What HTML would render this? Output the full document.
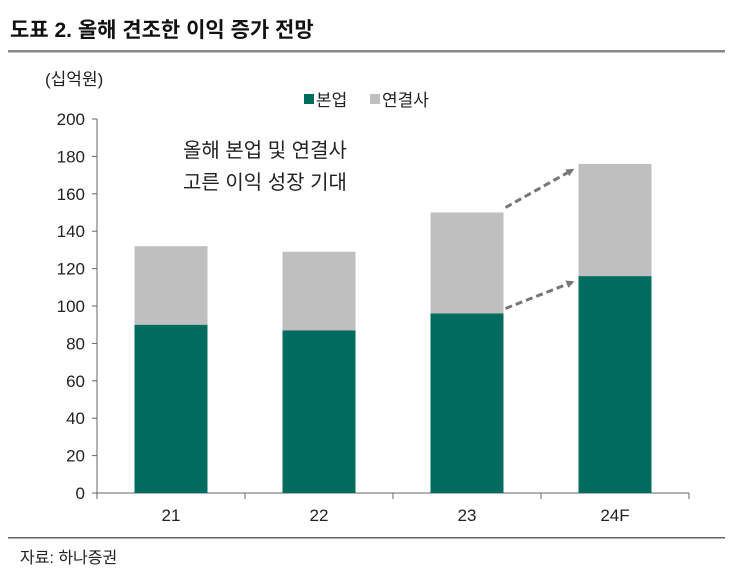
<!DOCTYPE html>
<html><head><meta charset="utf-8"><style>
body{margin:0;background:#fff;font-family:"Liberation Sans","Noto Sans CJK KR",sans-serif;}
</style></head><body>
<svg width="730" height="573" viewBox="0 0 730 573" xmlns="http://www.w3.org/2000/svg" font-family="'Liberation Sans','Noto Sans CJK KR',sans-serif">
<text x="10" y="37" font-size="21" font-weight="bold" fill="#111">도표 2. 올해 견조한 이익 증가 전망</text>
<rect x="8" y="50" width="717" height="2.5" fill="#888"/>
<text x="45" y="85" font-size="17" fill="#222">(십억원)</text>
<rect x="304" y="94" width="10" height="10" fill="#006b5e"/>
<text x="316" y="106" font-size="17" fill="#222">본업</text>
<rect x="370" y="94" width="10" height="10" fill="#bfbfbf"/>
<text x="382" y="106" font-size="17" fill="#222">연결사</text>
<text x="183" y="157" font-size="20" fill="#222">올해 본업 및 연결사</text>
<text x="183" y="189" font-size="20" fill="#222">고른 이익 성장 기대</text>
<g id="plot"></g>
<rect x="8" y="537" width="717" height="1.5" fill="#666"/>
<text x="20" y="563" font-size="16" fill="#222">자료: 하나증권</text>
</svg>
<script>
const categories=["21","22","23","24F"];
const mainValues=[90,87,96,116];
const subValues=[42,42,54,60];
const yTicks=[0,20,40,60,80,100,120,140,160,180,200];
const NS="http://www.w3.org/2000/svg";
const g=document.getElementById("plot");
const x0=97,x1=689,y0=493,y1=119;
const yS=v=>y0-(v/200)*(y0-y1);
const cw=(x1-x0)/categories.length;
const xS=i=>x0+cw*i+cw/2;
function mk(t,a){const e=document.createElementNS(NS,t);for(const k in a)e.setAttribute(k,a[k]);g.appendChild(e);return e;}
let e=mk("line",{x1:x0,y1:y1,x2:x0,y2:y0,stroke:"#666"});


e=mk("line",{x1:x0,y1:y0,x2:x1,y2:y0,stroke:"#666"});


yTicks.forEach(v=>{
 let t=mk("line",{x1:x0-5,y1:yS(v),x2:x0,y2:yS(v),stroke:"#666"});
 
 
 let l=mk("text",{x:x0-12,y:yS(v)+6,"font-size":17,"text-anchor":"end",fill:"#222"});
 l.textContent=v;
 
 
});
for(let i=0;i<=categories.length;i++){
 let t=mk("line",{x1:x0+cw*i,y1:y0,x2:x0+cw*i,y2:y0+6,stroke:"#666"});
 
 
}
const bw=73;
const tops=[];
categories.forEach((c,i)=>{
 const cx=xS(i);
 let b=mk("rect",{x:cx-bw/2,y:yS(mainValues[i]),width:bw,height:y0-yS(mainValues[i]),fill:"#006b5e"});
 
 
 const tot=mainValues[i]+subValues[i];
 let s=mk("rect",{x:cx-bw/2,y:yS(tot),width:bw,height:yS(mainValues[i])-yS(tot),fill:"#bfbfbf"});
 
 
 let l=mk("text",{x:cx,y:y0+28,"font-size":17,"text-anchor":"middle",fill:"#222"});
 l.textContent=c;
 
 
});
// arrows from 23 to 24F
const defs=document.createElementNS(NS,"defs");
defs.innerHTML='<marker id="ah" markerWidth="8" markerHeight="8" refX="6" refY="4" orient="auto" markerUnits="userSpaceOnUse"><path d="M0,0 L8,4 L0,8 z" fill="#777"/></marker>';
g.appendChild(defs);
[[mainValues[2],mainValues[3]],[mainValues[2]+subValues[2],mainValues[3]+subValues[3]]].forEach((p,k)=>{
 let a=mk("line",{x1:xS(2)+bw/2+2,y1:yS(p[0])-5,x2:xS(3)-bw/2-6,y2:yS(p[1])+6,stroke:"#777","stroke-width":3,"stroke-dasharray":"7,4","marker-end":"url(#ah)"});
 
 
});
</script>
</body></html>
